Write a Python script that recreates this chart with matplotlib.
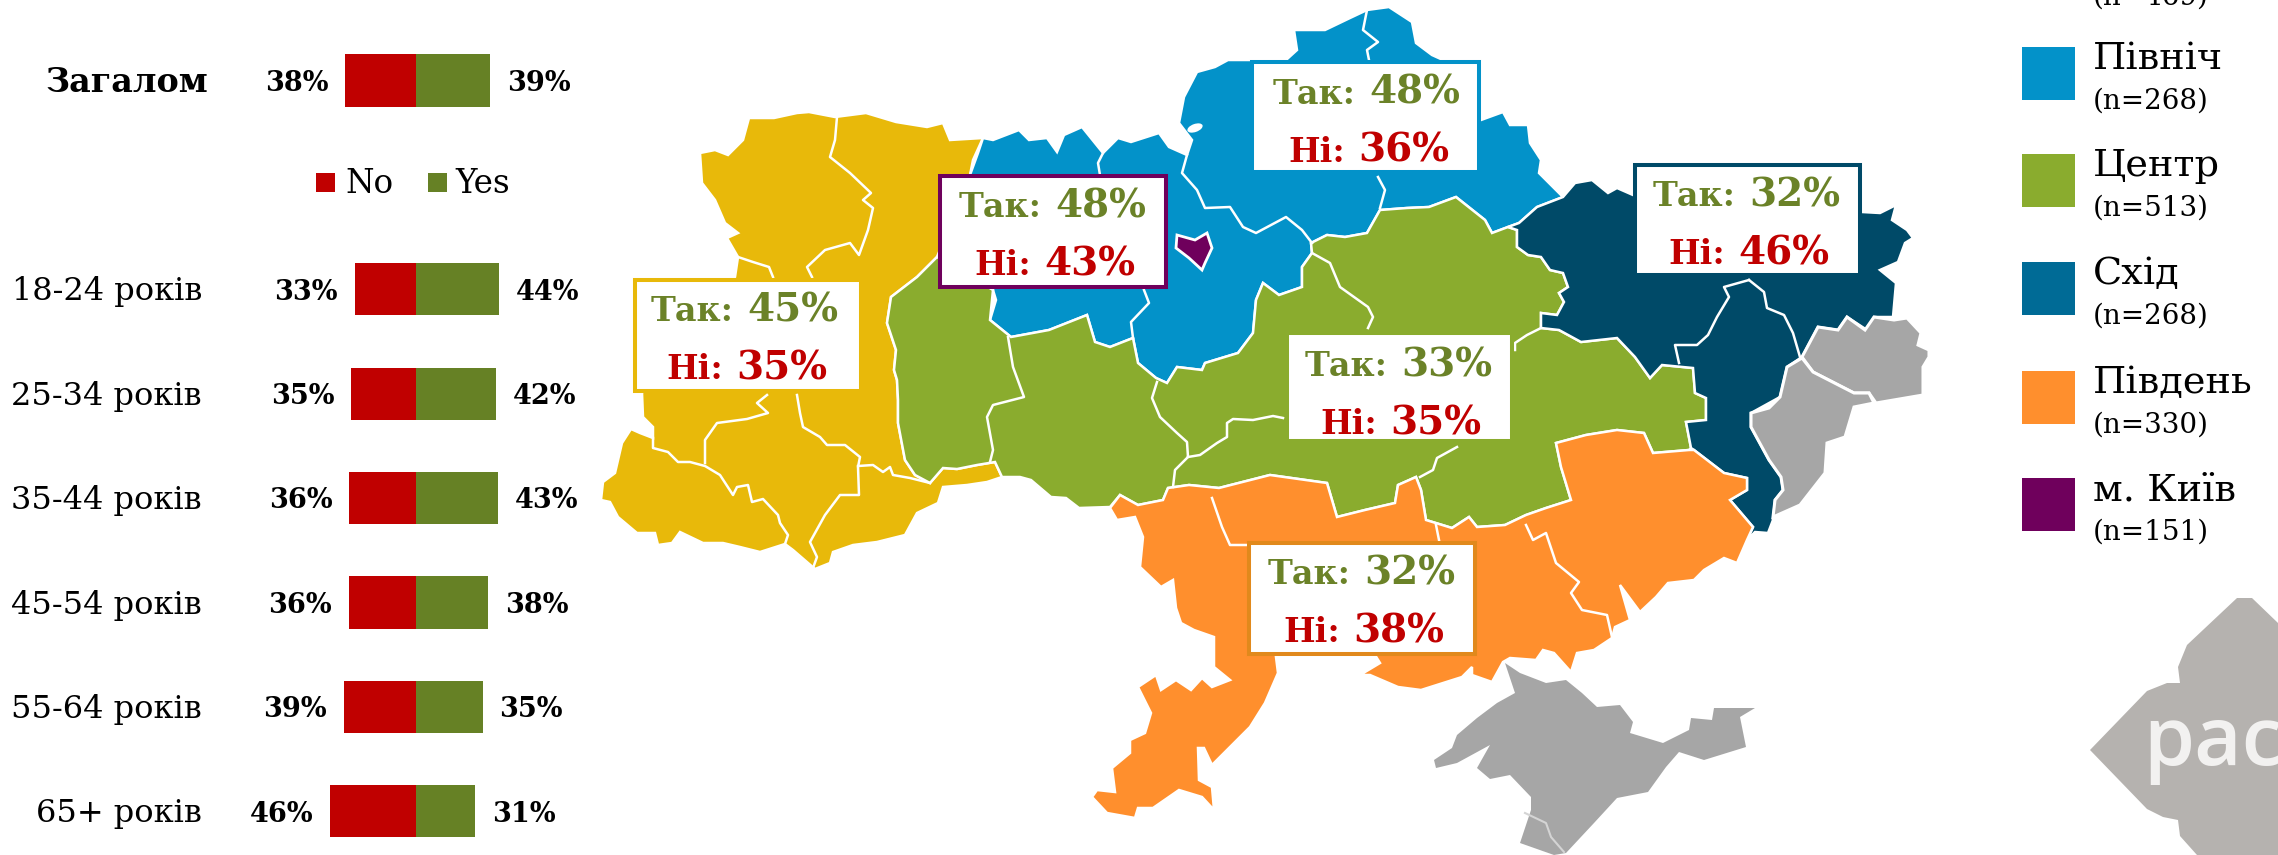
import matplotlib
matplotlib.use('Agg')
import matplotlib.pyplot as plt
from matplotlib.patches import Polygon, Rectangle, Ellipse

plt.rcParams['font.family'] = ['DejaVu Serif']

c_no = '#C00000'
c_yes = '#668125'
c_yes_text = '#6B8228'
c_west = '#E8B90A'
c_north = '#0392C9'
c_center = '#8AAC2E'
c_east = '#004A68'
c_south = '#FF8F2D'
c_kyiv = '#6F005C'
c_grey = '#A6A6A6'

# bars
groups = ['Загалом', '18-24 років', '25-34 років', '35-44 років', '45-54 років', '55-64 років', '65+ років']
rows = [0, 2, 3, 4, 5, 6, 7]
no = [37.9, 32.8, 34.7, 35.7, 36.0, 38.6, 45.9]
yes = [39.3, 44.1, 42.4, 43.4, 38.4, 35.4, 31.4]

# map outlines, in pixels of the picture
west = [(749,118),(774,118),(797,113),(809,112),(835,117),(866,113),(896,122),(927,127),(943,123),(950,140),(983,138),
        (973,160),(970,175),(937,257),(917,277),(891,297),(887,323),(896,350),(894,370),(897,380),(898,400),(898,423),
        (905,460),(915,475),(930,483),(943,468),(957,469),(977,465),(995,462),(1002,477),(987,482),(967,485),(943,487),
        (938,503),(917,513),(905,535),(877,542),(853,545),(833,552),(830,563),(815,569),(793,550),(785,544),(760,552),
        (740,547),(723,543),(703,543),(680,532),(672,543),(658,545),(655,533),(637,533),(618,517),(610,502),(601,500),
        (603,482),(615,473),(622,443),(631,429),(640,433),(653,438),(653,427),(643,417),(642,393),(735,277),(738,257),
        (727,238),(738,233),(725,223),(715,200),(702,183),(700,153),(715,150),(728,155),(743,140)]
north = [(983,138),(993,140),(1019,130),(1029,140),(1047,138),(1057,152),(1064,135),(1082,127),(1103,153),(1118,138),
         (1131,142),(1159,133),(1169,147),(1187,155),(1192,140),(1179,123),(1184,97),(1197,72),(1215,67),(1228,60),
         (1286,60),(1297,50),(1294,30),(1325,30),(1350,18),(1367,10),(1389,7),(1412,22),(1416,43),(1432,55),(1443,60),
         (1481,120),(1503,112),(1510,125),(1528,125),(1530,143),(1541,160),(1539,173),(1563,197),(1537,207),(1519,223),
         (1508,227),(1492,233),(1485,220),(1456,197),(1429,207),(1407,208),(1380,210),(1367,233),(1345,237),(1327,235),
         (1311,243),(1312,253),(1302,267),(1302,287),(1279,295),(1263,283),(1256,300),(1253,333),(1238,353),(1205,363),
         (1202,370),(1177,367),(1167,383),(1156,378),(1138,363),(1133,338),(1110,347),(1095,342),(1087,315),(1049,330),
         (1011,337),(990,320),(996,300),(993,290),(970,175),(978,153)]
center = [(937,257),(993,290),(990,320),(1011,337),(1049,330),(1087,315),(1095,342),(1110,347),(1133,338),(1138,363),
          (1156,378),(1167,383),(1177,367),(1202,370),(1205,363),(1238,353),(1253,333),(1256,300),(1263,283),(1279,295),
          (1302,287),(1302,267),(1312,253),(1311,243),(1327,235),(1345,237),(1367,233),(1380,210),(1407,208),(1429,207),
          (1456,197),(1485,220),(1492,233),(1508,227),(1517,230),(1517,247),(1528,255),(1541,257),(1550,270),(1563,273),
          (1568,287),(1559,293),(1564,302),(1557,315),(1541,313),(1541,328),(1559,330),(1581,342),(1617,338),(1635,357),
          (1650,378),(1662,365),(1693,368),(1695,393),(1706,398),(1706,420),(1686,422),(1691,448),(1689,450),(1653,453),
          (1644,433),(1617,430),(1586,435),(1556,443),(1561,467),(1571,500),(1546,508),(1526,515),(1505,525),(1477,527),
          (1469,517),(1452,528),(1426,520),(1421,490),(1416,477),(1398,485),(1395,503),(1365,510),(1337,517),(1327,483),
          (1270,475),(1219,488),(1189,485),(1168,488),(1163,500),(1138,505),(1120,495),(1110,507),(1079,508),(1066,498),
          (1051,497),(1031,480),(1020,477),(1002,477),(995,462),(977,465),(957,469),(943,468),(930,483),(915,475),(905,460),
          (898,423),(898,400),(897,380),(894,370),(896,350),(887,323),(891,297),(917,277)]
east = [(1563,197),(1575,183),(1592,180),(1608,193),(1617,188),(1633,195),(1686,162),(1862,212),(1880,213),(1896,205),
        (1892,220),(1907,230),(1913,238),(1905,243),(1898,262),(1880,270),(1896,283),(1893,317),(1874,317),(1867,330),
        (1847,317),(1838,330),(1818,327),(1802,357),(1787,367),(1780,397),(1751,413),(1751,427),(1769,460),(1781,477),
        (1783,490),(1775,500),(1773,520),(1768,533),(1755,532),(1747,540),(1753,527),(1730,500),(1747,490),(1747,478),
        (1724,473),(1694,450),(1691,448),(1686,422),(1706,420),(1706,398),(1695,393),(1693,368),(1662,365),(1650,378),
        (1635,357),(1617,338),(1581,342),(1559,330),(1541,328),(1541,313),(1557,315),(1564,302),(1559,293),(1568,287),
        (1563,273),(1550,270),(1541,257),(1528,255),(1517,247),(1517,230),(1508,227),(1519,223),(1537,207)]
south = [(1110,508),(1120,495),(1138,505),(1163,500),(1168,488),(1189,485),(1219,488),(1270,475),(1327,483),(1337,517),
         (1365,510),(1395,503),(1398,485),(1416,477),(1421,490),(1426,520),(1452,528),(1469,517),(1477,527),(1505,525),
         (1526,515),(1546,508),(1571,500),(1561,467),(1556,443),(1586,435),(1617,430),(1644,433),(1653,453),(1689,450),
         (1694,450),(1724,473),(1747,478),(1747,490),(1730,500),(1753,527),(1747,540),(1737,563),(1724,558),(1704,570),
         (1694,580),(1668,583),(1656,597),(1640,612),(1620,585),(1630,620),(1615,627),(1612,638),(1594,650),(1577,653),
         (1571,672),(1554,653),(1543,650),(1536,660),(1510,658),(1503,662),(1492,682),(1472,675),(1472,667),(1462,677),
         (1421,690),(1398,687),(1370,675),(1360,675),(1380,663),(1375,655),(1276,657),(1278,673),(1265,703),(1250,727),
         (1212,765),(1204,748),(1198,748),(1199,780),(1212,787),(1214,810),(1202,797),(1179,790),(1153,808),(1138,808),
         (1135,818),(1107,813),(1092,797),(1097,790),(1115,792),(1112,768),(1130,753),(1130,740),(1145,733),(1151,713),
         (1138,687),(1156,675),(1161,690),(1176,680),(1191,690),(1202,678),(1212,687),(1230,680),(1214,667),(1214,637),
         (1194,630),(1181,623),(1176,608),(1173,580),(1161,587),(1140,567),(1143,537),(1135,517),(1117,520)]
kyiv = [(1177,235),(1195,240),(1207,233),(1212,248),(1205,263),(1202,270),(1189,258),(1176,248)]
luhansk = [(1802,357),(1818,327),(1838,330),(1847,317),(1865,330),(1874,317),(1894,320),(1907,318),(1921,333),(1918,345),
           (1929,350),(1929,357),(1923,367),(1923,395),(1876,403),(1869,393),(1854,393),(1813,372)]
donetsk = [(1802,358),(1787,367),(1780,397),(1769,408),(1751,413),(1751,427),(1769,460),(1781,477),(1783,490),(1775,500),
           (1773,517),(1800,505),(1825,473),(1827,443),(1845,437),(1854,407),(1874,403),(1869,393),(1854,393),(1813,372)]
crimea = [(1434,760),(1452,748),(1457,735),(1477,718),(1497,703),(1515,693),(1505,663),(1520,673),(1546,683),(1566,680),
          (1582,693),(1597,707),(1620,705),(1633,722),(1630,733),(1663,743),(1689,730),(1691,718),(1712,720),(1714,708),
          (1755,708),(1740,717),(1746,747),(1704,760),(1679,752),(1666,767),(1648,792),(1617,798),(1594,823),(1566,853),
          (1554,855),(1520,843),(1531,810),(1531,797),(1510,775),(1490,779),(1477,768),(1490,745),(1457,763),(1436,768)]
sevastopol = [(1525,813),(1546,823),(1551,837),(1564,852)]

# oblast borders
borders = [
    [(837,117),(835,140),(830,157),(850,173),(871,193),(863,200),(873,208),(868,230),(859,255),(850,243),(825,250),(807,267),(812,277)],
    [(738,257),(753,262),(769,267),(773,277)],
    [(767,395),(757,403),(768,413),(747,419),(717,423),(705,440),(705,463)],
    [(653,438),(653,448),(668,452),(678,462),(690,462),(705,466),(720,475),(733,495),(737,487),(748,485),(752,502),(763,499),(778,515),(780,523),(788,535),(785,544)],
    [(797,395),(800,413),(803,427),(820,437),(827,445),(845,445),(860,457),(858,467),(859,495),(840,495),(825,515),(810,542),(817,557),(813,568)],
    [(858,466),(873,465),(883,472),(890,467),(893,475),(910,478),(930,483)],
    [(1367,10),(1363,30),(1378,42),(1367,50),(1369,60)],
    [(1378,177),(1385,190),(1380,208)],
    [(1103,153),(1098,163),(1100,175)],
    [(1144,290),(1149,303),(1131,322),(1133,338)],
    [(1187,155),(1182,173),(1197,190),(1205,208),(1230,207),(1243,227),(1256,233),(1286,217),(1302,230),(1312,243)],
    [(1312,253),(1330,263),(1340,287),(1368,307),(1373,317),(1368,328)],
    [(1008,337),(1013,367),(1024,397),(993,405),(987,417),(993,450),(990,462)],
    [(1157,382),(1152,398),(1160,417),(1177,433),(1187,442),(1188,457),(1175,470),(1173,487)],
    [(1188,457),(1200,455),(1217,443),(1227,437),(1227,423),(1233,419),(1253,420),(1273,416),(1283,418)],
    [(1457,447),(1437,458),(1433,470),(1420,477)],
    [(1515,350),(1515,343),(1527,335),(1541,328)],
    [(1749,280),(1724,287),(1729,297),(1717,317),(1708,335),(1697,345),(1675,345),(1679,363)],
    [(1749,280),(1764,292),(1767,308),(1784,315),(1793,333),(1800,357)],
    [(1212,498),(1222,527),(1230,545),(1250,545)],
    [(1436,525),(1439,540)],
    [(1526,525),(1533,540),(1546,533),(1556,563),(1579,582),(1571,593),(1582,610),(1607,615),(1612,637)],
]
logo = [(2090,750),(2147,691),(2167,683),(2180,683),(2178,667),(2187,645),(2237,598),(2252,598),(2278,623),(2278,855),
        (2197,855),(2180,836),(2178,820),(2163,817),(2147,809)]

# map labels
box_yes = [45, 48, 48, 32, 33, 32]
box_no = [35, 43, 36, 46, 35, 38]
box_cx = [745, 1053, 1367, 1747, 1399, 1362]
box_top = [278, 174, 61, 163, 333, 541]
box_edges = [(634.5, 861, 280, 391), (940, 1166, 176, 287), (1252, 1479, 62.5, 172), (1635, 1860, 165, 275),
             (1287, 1512, 333, 441), (1249, 1475, 543, 654)]
box_colors = [c_west, c_kyiv, c_north, c_east, c_center, '#E1891C']

# legend
leg_names = ['Північ', 'Центр', 'Схід', 'Південь', 'м. Київ']
leg_n = [268, 513, 268, 330, 151]
leg_top = [47, 154, 262, 371, 478]
leg_colors = [c_north, c_center, '#006B96', c_south, c_kyiv]

fig = plt.figure(figsize=(22.78, 8.55), dpi=100)
ax = fig.add_axes([0, 0, 1, 1])
ax.set_xlim(0, 2278)
ax.set_ylim(855, 0)
ax.axis('off')

for pts, col in [(west, c_west), (north, c_north), (center, c_center), (east, c_east), (south, c_south)]:
    ax.add_patch(Polygon(pts, closed=True, fc=col, ec='white', lw=1.8, zorder=2))
for pts in (luhansk, donetsk):
    ax.add_patch(Polygon(pts, closed=True, fc=c_grey, ec='white', lw=2.2, zorder=2))
ax.add_patch(Polygon(crimea, closed=True, fc=c_grey, ec='none', zorder=2))
ax.plot([p[0] for p in sevastopol], [p[1] for p in sevastopol], color='#D4D4D4', lw=1.5, zorder=3)
for line in borders:
    ax.plot([p[0] for p in line], [p[1] for p in line], color='white', lw=1.8, zorder=3)
ax.add_patch(Ellipse((1195, 128), 16, 8, angle=-20, fc='white', ec='none', zorder=3))
ax.add_patch(Polygon(kyiv, closed=True, fc=c_kyiv, ec='white', lw=2, zorder=4))

for i in range(6):
    x0, x1, y0, y1 = box_edges[i]
    ax.add_patch(Rectangle((x0, y0), x1 - x0, y1 - y0, fc='white', ec=box_colors[i], lw=2.9, zorder=5))
    cx = box_cx[i]
    top = box_top[i]
    ax.text(cx - 11, top + 43, 'Так:', color=c_yes_text, fontsize=24, fontweight='bold', ha='right', va='baseline', zorder=6)
    ax.text(cx + 2, top + 43, f'{box_yes[i]}%', color=c_yes_text, fontsize=28, fontweight='bold', ha='left', va='baseline', zorder=6)
    ax.text(cx - 22, top + 101, 'Ні:', color=c_no, fontsize=24, fontweight='bold', ha='right', va='baseline', zorder=6)
    ax.text(cx - 9, top + 101, f'{box_no[i]}%', color=c_no, fontsize=28, fontweight='bold', ha='left', va='baseline', zorder=6)

# legend on the right
for i in range(5):
    ax.add_patch(Rectangle((2022, leg_top[i]), 53, 53, fc=leg_colors[i], ec='none'))
    ax.text(2093, leg_top[i] + 22, leg_names[i], fontsize=27.5, ha='left', va='baseline')
    ax.text(2093, leg_top[i] + 62, f'(n={leg_n[i]})', fontsize=20, ha='left', va='baseline')
ax.text(2093, 5, '(n=469)', fontsize=20, ha='left', va='baseline')

# logo, cut by the edge of the picture
ax.add_patch(Polygon(logo, closed=True, fc='#B5B2AF', ec='none'))
ax.text(2143, 765, 'pact', color='#F2F1F0', fontsize=59, family='Open Sans', fontweight='semibold', ha='left', va='baseline')

# bars on the left
bx = fig.add_axes([0, 0, 640 / 2278, 1])
bx.set_xlim(-416.3 / 1.88, (640 - 416.3) / 1.88)
bx.set_ylim((855 - 80.5) / 104.4, -80.5 / 104.4)
bx.axis('off')
bx.patch.set_alpha(0)
bx.barh(rows, [-v for v in no], height=0.5, color=c_no)
bx.barh(rows, yes, height=0.5, color=c_yes)
for i in range(len(rows)):
    bx.annotate(f'{no[i]:.0f}%', (-no[i], rows[i]), xytext=(-12, -2), textcoords='offset points',
                fontsize=19.5, fontweight='bold', ha='right', va='center')
    bx.annotate(f'{yes[i]:.0f}%', (yes[i], rows[i]), xytext=(12, -2), textcoords='offset points',
                fontsize=19.5, fontweight='bold', ha='left', va='center')
    if i == 0:
        ax.text(208, 82, groups[i], fontsize=24, fontweight='bold', ha='right', va='center')
    else:
        ax.text(202, 83 + rows[i] * 104.4, groups[i], fontsize=23, ha='right', va='center')

ax.add_patch(Rectangle((316, 173), 19, 19, fc=c_no, ec='none'))
ax.add_patch(Rectangle((428, 173), 19, 19, fc=c_yes, ec='none'))
ax.text(345, 184, 'No', fontsize=23.5, ha='left', va='center')
ax.text(455, 184, 'Yes', fontsize=23.5, ha='left', va='center')

fig.savefig('out.png', dpi=100)
